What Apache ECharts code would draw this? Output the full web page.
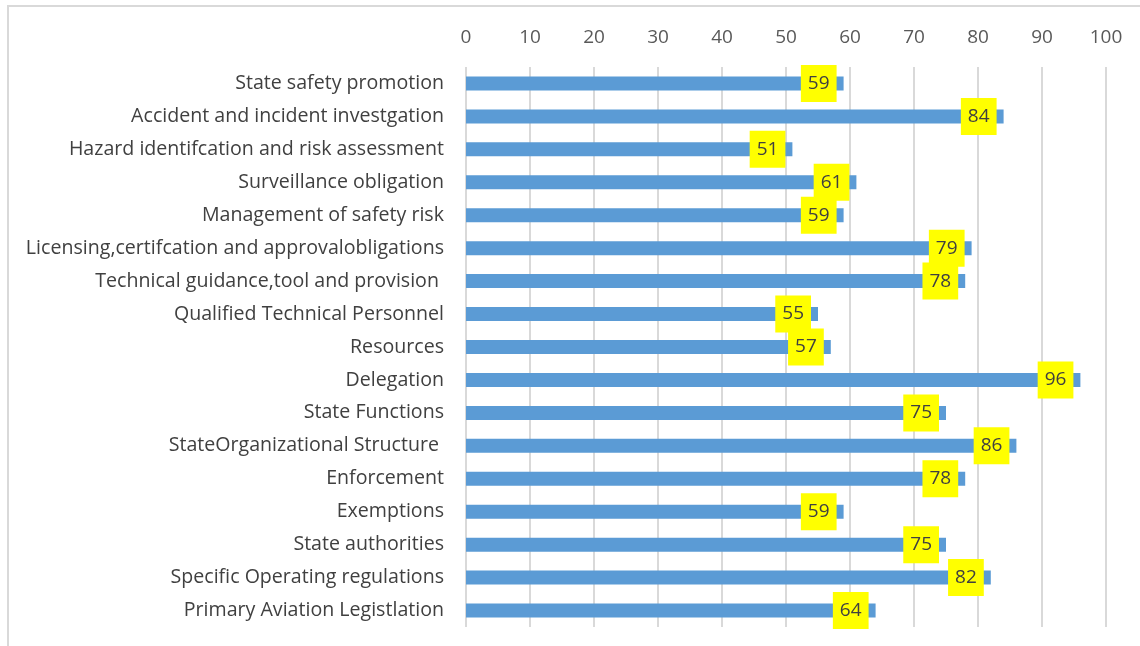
<!DOCTYPE html>
<html>
<head>
<meta charset="utf-8">
<script src="https://cdn.jsdelivr.net/npm/echarts@6/dist/echarts.min.js"></script>
<style>
  html, body { margin: 0; padding: 0; background: #fff; }
  #main { width: 1140px; height: 646px; }
</style>
</head>
<body>
<div id="main"></div>
<script>
// categories, top to bottom
var categories = [
  'State safety promotion',
  'Accident and incident investgation',
  'Hazard identifcation and risk assessment',
  'Surveillance obligation',
  'Management of safety risk',
  'Licensing,certifcation and approvalobligations',
  'Technical guidance,tool and provision ',
  'Qualified Technical Personnel',
  'Resources',
  'Delegation',
  'State Functions',
  'StateOrganizational Structure ',
  'Enforcement',
  'Exemptions',
  'State authorities',
  'Specific Operating regulations',
  'Primary Aviation Legistlation'
];
var scores = [59, 84, 51, 61, 59, 79, 78, 55, 57, 96, 75, 86, 78, 59, 75, 82, 64];
var axisMin = 0, axisMax = 100, axisStep = 10;

var chart = echarts.init(document.getElementById('main'));
chart.setOption({
  animation: false,
  textStyle: { fontFamily: 'Open Sans' },
  graphic: [{
    type: 'rect',
    shape: { x: 8, y: 6, width: 1200, height: 700 },
    style: { fill: 'none', stroke: '#d9d9d9', lineWidth: 2 }
  }],
  grid: { left: 466, right: 34, top: 67, bottom: 19, containLabel: false },
  xAxis: {
    type: 'value',
    position: 'top',
    min: axisMin,
    max: axisMax,
    interval: axisStep,
    axisLine: { show: false },
    axisTick: { show: false },
    axisLabel: { color: '#595959', fontSize: 19, margin: 20 },
    splitLine: { lineStyle: { color: '#d9d9d9', width: 2 } }
  },
  yAxis: {
    type: 'category',
    inverse: true,
    data: categories,
    axisLine: { show: false },
    axisTick: { show: false },
    axisLabel: { color: '#404040', fontSize: 19.6, margin: 22 }
  },
  series: [{
    type: 'bar',
    data: scores,
    barWidth: 14,
    itemStyle: { color: '#5b9bd5' },
    label: {
      show: true,
      position: 'insideRight',
      distance: 7,
      color: '#404040',
      fontSize: 19,
      backgroundColor: '#ffff00',
      padding: [8, 7, 7, 7],
      lineHeight: 22
    }
  }]
});
</script>
</body>
</html>
